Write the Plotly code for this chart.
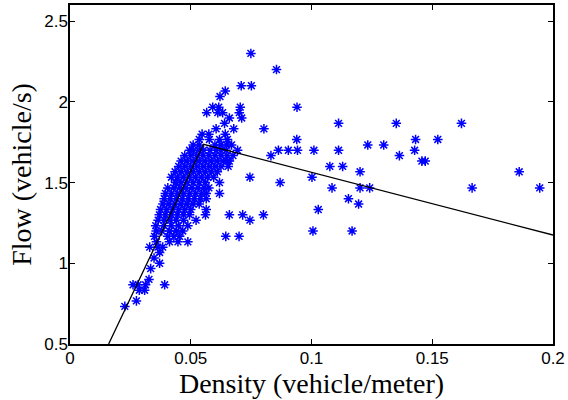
import plotly.graph_objects as go

# Scatter data (density in vehicle/meter, flow in vehicle/s)
density = [
    # sparse upper / right points
    0.0749, 0.0855, 0.0709, 0.0751, 0.0643, 0.0621,
    0.0940, 0.0705, 0.0591, 0.0616,
    0.0701, 0.0566, 0.0612, 0.0632,
    0.0711, 0.0660,
    0.0640, 0.1112, 0.1351, 0.1621,
    0.0678, 0.0803, 0.0605,
    0.0643, 0.0547, 0.0575,
    0.0939, 0.1431, 0.1523, 0.0652, 0.0619, 0.0577, 0.0535,
    0.1233, 0.1299, 0.0649, 0.0669, 0.0510, 0.0535, 0.0600, 0.0625,
    0.0863, 0.0904, 0.0942, 0.1010, 0.1112, 0.1427, 0.0694,
    0.0832, 0.1364,
    0.1457, 0.1471, 0.0653,
    0.1076, 0.1129,
    0.1201, 0.1860,
    0.0745, 0.1002,
    0.0870,
    0.1085, 0.1201, 0.1241, 0.1665, 0.1945,
    0.1153,
    0.1195,
    0.1028, 0.0564,
    0.0660, 0.0715, 0.0801, 0.0561,
    0.0745,
    0.1006, 0.1168,
    0.0645, 0.0700,
    0.0619,
    # low left points
    0.0227, 0.0275, 0.0261, 0.0282, 0.0313, 0.0392, 0.0287, 0.0309,
    0.0327, 0.0334, 0.0371, 0.0348, 0.0371, 0.0330, 0.0364, 0.0384,
    # dense cluster
    0.0358, 0.0447, 0.0488, 0.0412,
    0.0350, 0.0454, 0.0405, 0.0430,
    0.0357, 0.0412, 0.0440, 0.0467, 0.0380,
    0.0355, 0.0388, 0.0420, 0.0488, 0.0450,
    0.0365, 0.0390, 0.0415, 0.0440, 0.0522, 0.0470,
    0.0370, 0.0395, 0.0420, 0.0445, 0.0470, 0.0495,
    0.0375, 0.0400, 0.0425, 0.0450, 0.0475, 0.0500,
    0.0385, 0.0410, 0.0435, 0.0460, 0.0485, 0.0510, 0.0535,
    0.0390, 0.0415, 0.0440, 0.0465, 0.0490, 0.0515, 0.0540, 0.0564,
    0.0395, 0.0420, 0.0445, 0.0470, 0.0495, 0.0520, 0.0545, 0.0564,
    0.0405, 0.0430, 0.0455, 0.0480, 0.0505, 0.0530, 0.0555, 0.0575,
    0.0440, 0.0437, 0.0460, 0.0485, 0.0510, 0.0535, 0.0560, 0.0619,
    0.0420, 0.0445, 0.0470, 0.0495, 0.0520, 0.0545, 0.0570, 0.0595,
    0.0435, 0.0460, 0.0485, 0.0510, 0.0535, 0.0560, 0.0585, 0.0610,
    0.0450, 0.0475, 0.0500, 0.0525, 0.0550, 0.0575, 0.0600, 0.0625, 0.0655,
    0.0460, 0.0485, 0.0510, 0.0535, 0.0560, 0.0585, 0.0610, 0.0635, 0.0660,
    0.0475, 0.0500, 0.0525, 0.0550, 0.0575, 0.0600, 0.0625, 0.0650, 0.0675,
    0.0495, 0.0511, 0.0535, 0.0553, 0.0580, 0.0605, 0.0625, 0.0646,
]
flow = [
    2.300, 2.200, 2.100, 2.100, 2.067, 2.033,
    1.967, 1.967, 1.967, 1.967,
    1.933, 1.933, 1.933, 1.933,
    1.900, 1.900,
    1.867, 1.867, 1.867, 1.867,
    1.833, 1.833, 1.833,
    1.800, 1.800, 1.800,
    1.767, 1.767, 1.767, 1.767, 1.767, 1.767, 1.767,
    1.733, 1.733, 1.733, 1.733, 1.733, 1.733, 1.733, 1.733,
    1.700, 1.700, 1.700, 1.700, 1.700, 1.700, 1.700,
    1.667, 1.667,
    1.633, 1.633, 1.633,
    1.600, 1.600,
    1.567, 1.567,
    1.533, 1.533,
    1.500,
    1.467, 1.467, 1.467, 1.467, 1.467,
    1.400,
    1.367,
    1.333, 1.333,
    1.300, 1.300, 1.300, 1.300,
    1.267,
    1.200, 1.200,
    1.167, 1.167,
    1.433,
    0.733, 0.767, 0.867, 0.867, 0.867, 0.867, 0.833, 0.833,
    0.900, 0.967, 1.000, 1.033, 1.067, 1.100, 1.100, 1.100,
    1.133, 1.133, 1.133, 1.133,
    1.167, 1.167, 1.167, 1.167,
    1.200, 1.200, 1.200, 1.200, 1.200,
    1.233, 1.233, 1.233, 1.233, 1.233,
    1.267, 1.267, 1.267, 1.267, 1.267, 1.267,
    1.300, 1.300, 1.300, 1.300, 1.300, 1.300,
    1.333, 1.333, 1.333, 1.333, 1.333, 1.333,
    1.367, 1.367, 1.367, 1.367, 1.367, 1.367, 1.367,
    1.400, 1.400, 1.400, 1.400, 1.400, 1.400, 1.400, 1.400,
    1.433, 1.433, 1.433, 1.433, 1.433, 1.433, 1.433, 1.433,
    1.467, 1.467, 1.467, 1.467, 1.467, 1.467, 1.467, 1.467,
    1.500, 1.500, 1.500, 1.500, 1.500, 1.500, 1.500, 1.500,
    1.533, 1.533, 1.533, 1.533, 1.533, 1.533, 1.533, 1.533,
    1.567, 1.567, 1.567, 1.567, 1.567, 1.567, 1.567, 1.567,
    1.600, 1.600, 1.600, 1.600, 1.600, 1.600, 1.600, 1.600, 1.600,
    1.633, 1.633, 1.633, 1.633, 1.633, 1.633, 1.633, 1.633, 1.633,
    1.667, 1.667, 1.667, 1.667, 1.667, 1.667, 1.667, 1.667, 1.667,
    1.700, 1.700, 1.700, 1.700, 1.700, 1.700, 1.700, 1.700,
]

# Fitted triangular fundamental diagram
fit_density = [0.0160, 0.0553, 0.2000]
fit_flow = [0.500, 1.737, 1.175]

x_tick_vals = [0, 0.05, 0.1, 0.15, 0.2]
x_tick_text = ["0", "0.05", "0.1", "0.15", "0.2"]
y_tick_vals = [0.5, 1, 1.5, 2, 2.5]
y_tick_text = ["0.5", "1", "1.5", "2", "2.5"]

fig = go.Figure()
fig.add_trace(go.Scatter(
    x=density, y=flow, mode="markers",
    marker=dict(symbol="asterisk-open", size=8, color="#0000ff",
                line=dict(color="#0000ff", width=1.5)),
    showlegend=False, cliponaxis=True,
))
fig.add_trace(go.Scatter(
    x=fit_density, y=fit_flow, mode="lines",
    line=dict(color="black", width=1.3),
    showlegend=False,
))

axis_common = dict(
    showgrid=False, zeroline=False, showline=True, linecolor="black",
    linewidth=1.5, mirror="ticks", ticks="inside", ticklen=5,
    tickcolor="black", tickwidth=1,
    tickfont=dict(family="Liberation Sans, Arial, sans-serif", size=17, color="black"),
)

title_font = dict(family="Liberation Serif, Times New Roman, serif", size=28, color="black")

fig.update_layout(
    width=568, height=400,
    margin=dict(l=70, r=13, t=3, b=56),
    paper_bgcolor="white", plot_bgcolor="white",
    xaxis=dict(
        range=[0, 0.2], tickvals=x_tick_vals, ticktext=x_tick_text,
        ticklabelstandoff=-2,
        title=dict(text="Density (vehicle/meter)", standoff=2, font=title_font),
        **axis_common,
    ),
    yaxis=dict(
        range=[0.5, 2.6], tickvals=y_tick_vals, ticktext=y_tick_text,
        ticklabelstandoff=-3,
        title=dict(text="Flow (vehicle/s)", standoff=4, font=title_font),
        **axis_common,
    ),
)

fig.write_html("out.html")
